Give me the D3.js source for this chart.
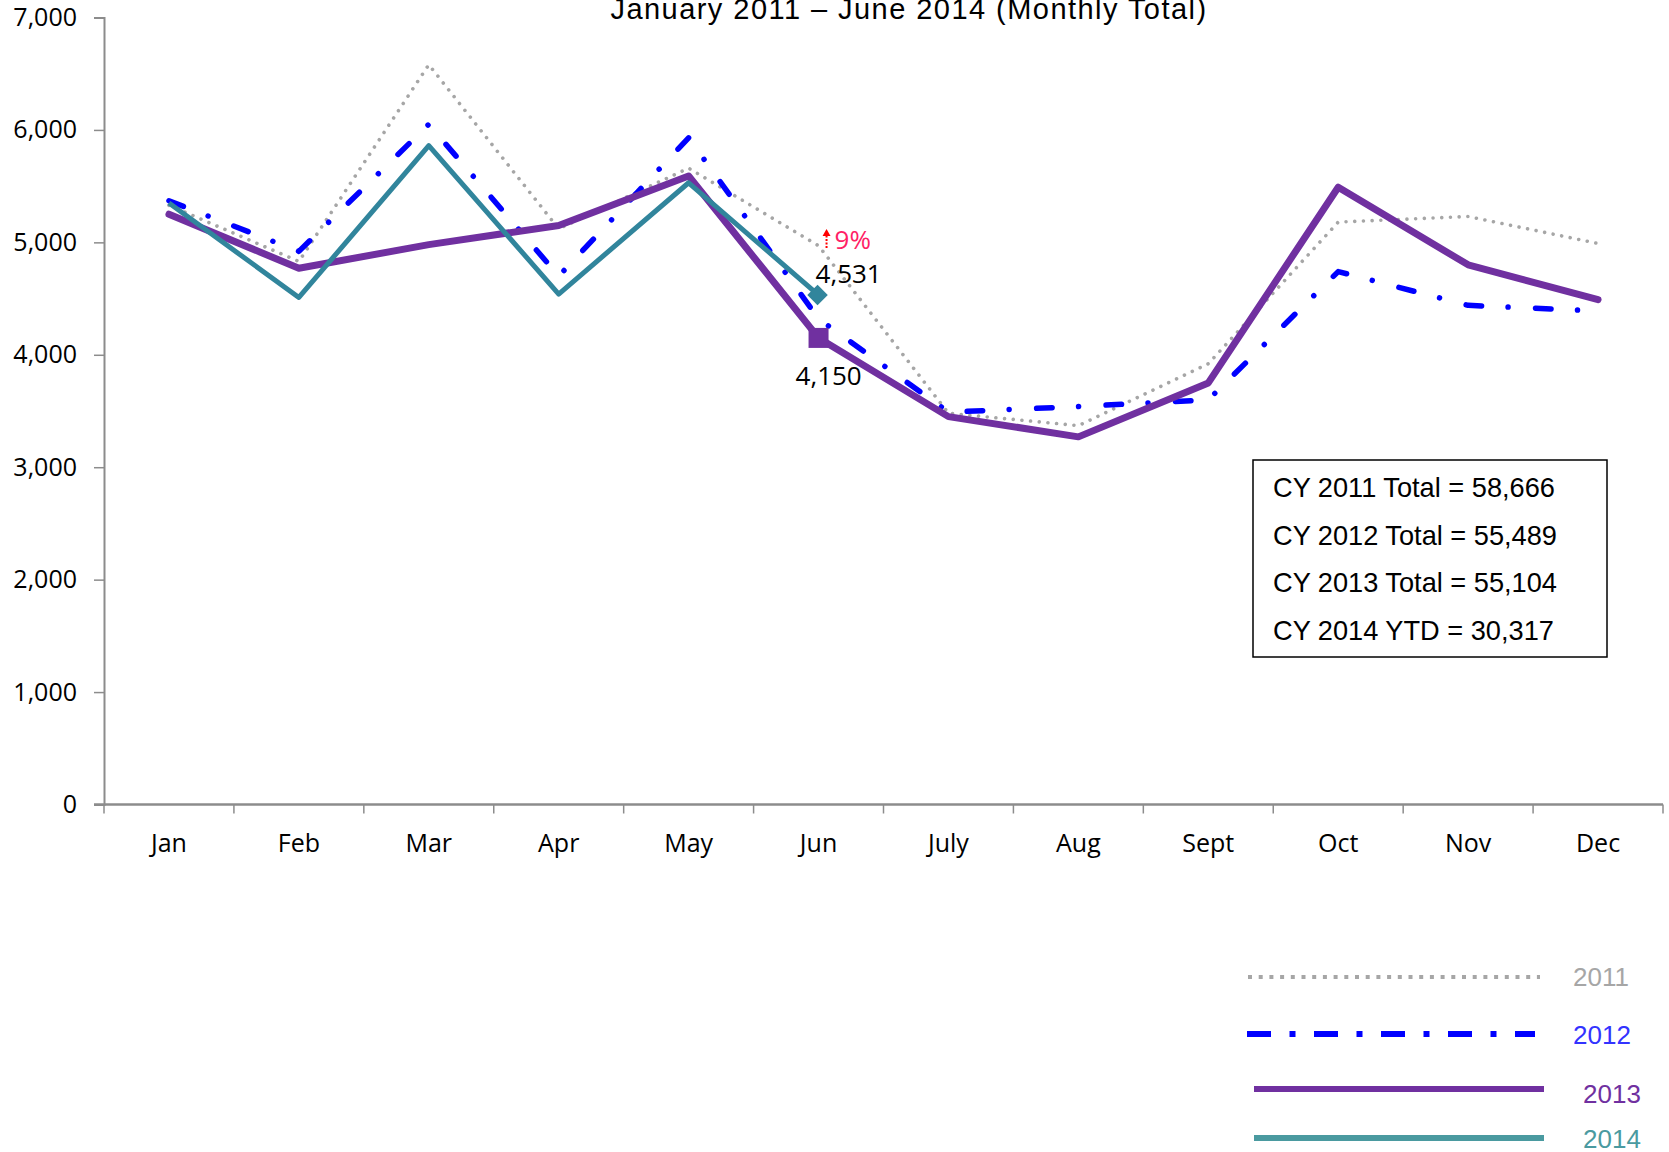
<!DOCTYPE html>
<html>
<head>
<meta charset="utf-8">
<script src="https://cdn.jsdelivr.net/npm/d3@7"></script>
<style>
  body { margin: 0; background: #fff; }
  svg { display: block; }
</style>
</head>
<body>
<svg id="chart" width="1669" height="1152"></svg>
<script>
// data
const months = ["Jan", "Feb", "Mar", "Apr", "May", "Jun", "July", "Aug", "Sept", "Oct", "Nov", "Dec"];
const v2011 = [5330, 4830, 6580, 5120, 5660, 4970, 3480, 3370, 3920, 5180, 5230, 4990];
const v2012 = [5370, 4920, 6050, 4700, 5930, 4320, 3490, 3540, 3600, 4740, 4440, 4390];
const v2013 = [5250, 4770, 4980, 5150, 5590, 4150, 3450, 3270, 3750, 5490, 4800, 4490];
const v2014 = [5350, 4510, 5860, 4540, 5530, 4531];
const yTicks = [0, 1000, 2000, 3000, 4000, 5000, 6000, 7000];
const totals = ["CY 2011 Total = 58,666", "CY 2012 Total = 55,489", "CY 2013 Total = 55,104", "CY 2014 YTD = 30,317"];
const years = ["2011", "2012", "2013", "2014"];

const svg = d3.select("#chart");

const x = d3.scaleBand().domain(months).range([104, 1663]);
const y = d3.scaleLinear().domain([0, 7000]).range([804.5, 17.5]);
const cx = (m) => x(m) + x.bandwidth() / 2;

// title (top line is cut off in the original)
svg.append("text")
  .attr("x", 909).attr("y", 19)
  .attr("text-anchor", "middle")
  .attr("style", "font-family:'Liberation Sans',Arial,sans-serif; font-size:29px; letter-spacing:1.45px; fill:#000")
  .text("January 2011 \u2013 June 2014 (Monthly Total)");

// y axis
const yAxis = svg.append("g")
  .attr("transform", "translate(104,0)")
  .call(d3.axisLeft(y).tickValues(yTicks).tickSize(10).tickPadding(17).tickFormat(d3.format(",")));
yAxis.select(".domain").attr("stroke", "#8c8c8c").attr("stroke-width", 2);
yAxis.selectAll(".tick line").attr("stroke", "#8c8c8c").attr("stroke-width", 1.5);
yAxis.selectAll(".tick text")
  .attr("style", "font-family:'Open Sans',sans-serif; font-size:25px; fill:#000");

// x axis: ticks on band edges, labels at band centers
const xAxis = svg.append("g").attr("transform", "translate(0,804.5)");
xAxis.append("line")
  .attr("x1", 94).attr("x2", 1663)
  .attr("stroke", "#8c8c8c").attr("stroke-width", 2.5);
xAxis.selectAll("line.tk")
  .data(months.map((m) => x(m)).concat([x.range()[1]]))
  .enter().append("line")
  .attr("class", "tk")
  .attr("x1", (d) => d).attr("x2", (d) => d)
  .attr("y1", 0).attr("y2", 9)
  .attr("stroke", "#8c8c8c").attr("stroke-width", 1.5);
xAxis.selectAll("text")
  .data(months)
  .enter().append("text")
  .attr("x", (d) => cx(d)).attr("y", 47)
  .attr("text-anchor", "middle")
  .attr("style", "font-family:'Open Sans',sans-serif; font-size:25px; fill:#000")
  .text((d) => d);

// lines
const line = d3.line().x((d) => cx(d.m)).y((d) => y(d.v));
const series = [
  { name: "2011", vals: v2011, color: "#a6a6a6", width: 3.6, dash: "0.01,8.7", cap: "round" },
  { name: "2012", vals: v2012, color: "#0000ff", width: 5.5, dash: "15.5,26.5,0.01,27.5", cap: "round" },
  { name: "2013", vals: v2013, color: "#7030a0", width: 7, dash: null, cap: "round" },
  { name: "2014", vals: v2014, color: "#31859c", width: 5, dash: null, cap: "butt" },
];
series.forEach((s) => {
  svg.append("path")
    .datum(s.vals.map((v, i) => ({ m: months[i], v: v })))
    .attr("d", line)
    .attr("fill", "none")
    .attr("stroke", s.color)
    .attr("stroke-width", s.width)
    .attr("stroke-linecap", s.cap)
    .attr("stroke-linejoin", "round")
    .attr("stroke-dasharray", s.dash);
});

// end markers for June
const jun = months[5];
svg.append("path")
  .attr("d", d3.symbol().type(d3.symbolSquare).size(400)())
  .attr("transform", `translate(${cx(jun)},${y(v2013[5])})`)
  .attr("fill", "#7030a0");
svg.append("path")
  .attr("d", d3.symbol().type(d3.symbolSquare).size(210)())
  .attr("transform", `translate(${cx(jun) - 1},${y(v2014[5])}) rotate(45)`)
  .attr("fill", "#31859c");

// point labels
const lblStyle = "font-family:'Open Sans',sans-serif; font-size:26px; fill:#000";
svg.append("text")
  .attr("x", cx(jun) - 3).attr("y", y(v2014[5]) - 12)
  .attr("style", lblStyle)
  .text(d3.format(",")(v2014[5]));
svg.append("text")
  .attr("x", cx(jun) - 23).attr("y", y(v2013[5]) + 47)
  .attr("style", lblStyle)
  .text(d3.format(",")(v2013[5]));

// percent change annotation
const pct = Math.round((v2014[5] - v2013[5]) / v2013[5] * 100);
const ax = cx(jun) + 8;
svg.append("line")
  .attr("x1", ax).attr("x2", ax)
  .attr("y1", 248).attr("y2", 234)
  .attr("stroke", "#ff0000").attr("stroke-width", 2)
  .attr("stroke-dasharray", "2,1.5");
svg.append("path")
  .attr("d", `M${ax - 4},236 L${ax},229 L${ax + 4},236 Z`)
  .attr("fill", "#ff0000");
svg.append("text")
  .attr("x", ax + 8).attr("y", 249)
  .attr("style", "font-family:'Open Sans',sans-serif; font-size:26px; fill:#ff1f66")
  .text(pct + "%");

// totals box
svg.append("rect")
  .attr("x", 1253).attr("y", 460)
  .attr("width", 354).attr("height", 197)
  .attr("fill", "#fff").attr("stroke", "#000").attr("stroke-width", 1.5);
svg.selectAll("text.tot")
  .data(totals)
  .enter().append("text")
  .attr("class", "tot")
  .attr("x", 1273)
  .attr("y", (d, i) => 497 + i * 47.7)
  .attr("style", "font-family:'Liberation Sans',Arial,sans-serif; font-size:27.2px; fill:#000")
  .text((d) => d);

// legend
const legend = [
  { x1: 1248, x2: 1540, y: 977, tx: 1573, ty: 986, color: "#a6a6a6", text: "#a6a6a6", w: 4, dash: "4,6.7" },
  { x1: 1247, x2: 1535, y: 1034, tx: 1573, ty: 1044, color: "#0000ff", text: "#3333ff", w: 6, dash: "24,18.5,6,18.5" },
  { x1: 1254, x2: 1544, y: 1089, tx: 1583, ty: 1103, color: "#7030a0", text: "#7030a0", w: 6, dash: null },
  { x1: 1254, x2: 1544, y: 1138, tx: 1583, ty: 1148, color: "#4a9aa0", text: "#4a9aa0", w: 6, dash: null },
];
legend.forEach((l, i) => {
  svg.append("line")
    .attr("x1", l.x1).attr("x2", l.x2)
    .attr("y1", l.y).attr("y2", l.y)
    .attr("stroke", l.color).attr("stroke-width", l.w)
    .attr("stroke-dasharray", l.dash);
  svg.append("text")
    .attr("x", l.tx).attr("y", l.ty)
    .attr("style", `font-family:'Liberation Sans',Arial,sans-serif; font-size:26px; fill:${l.text}`)
    .text(years[i]);
});
</script>
</body>
</html>
